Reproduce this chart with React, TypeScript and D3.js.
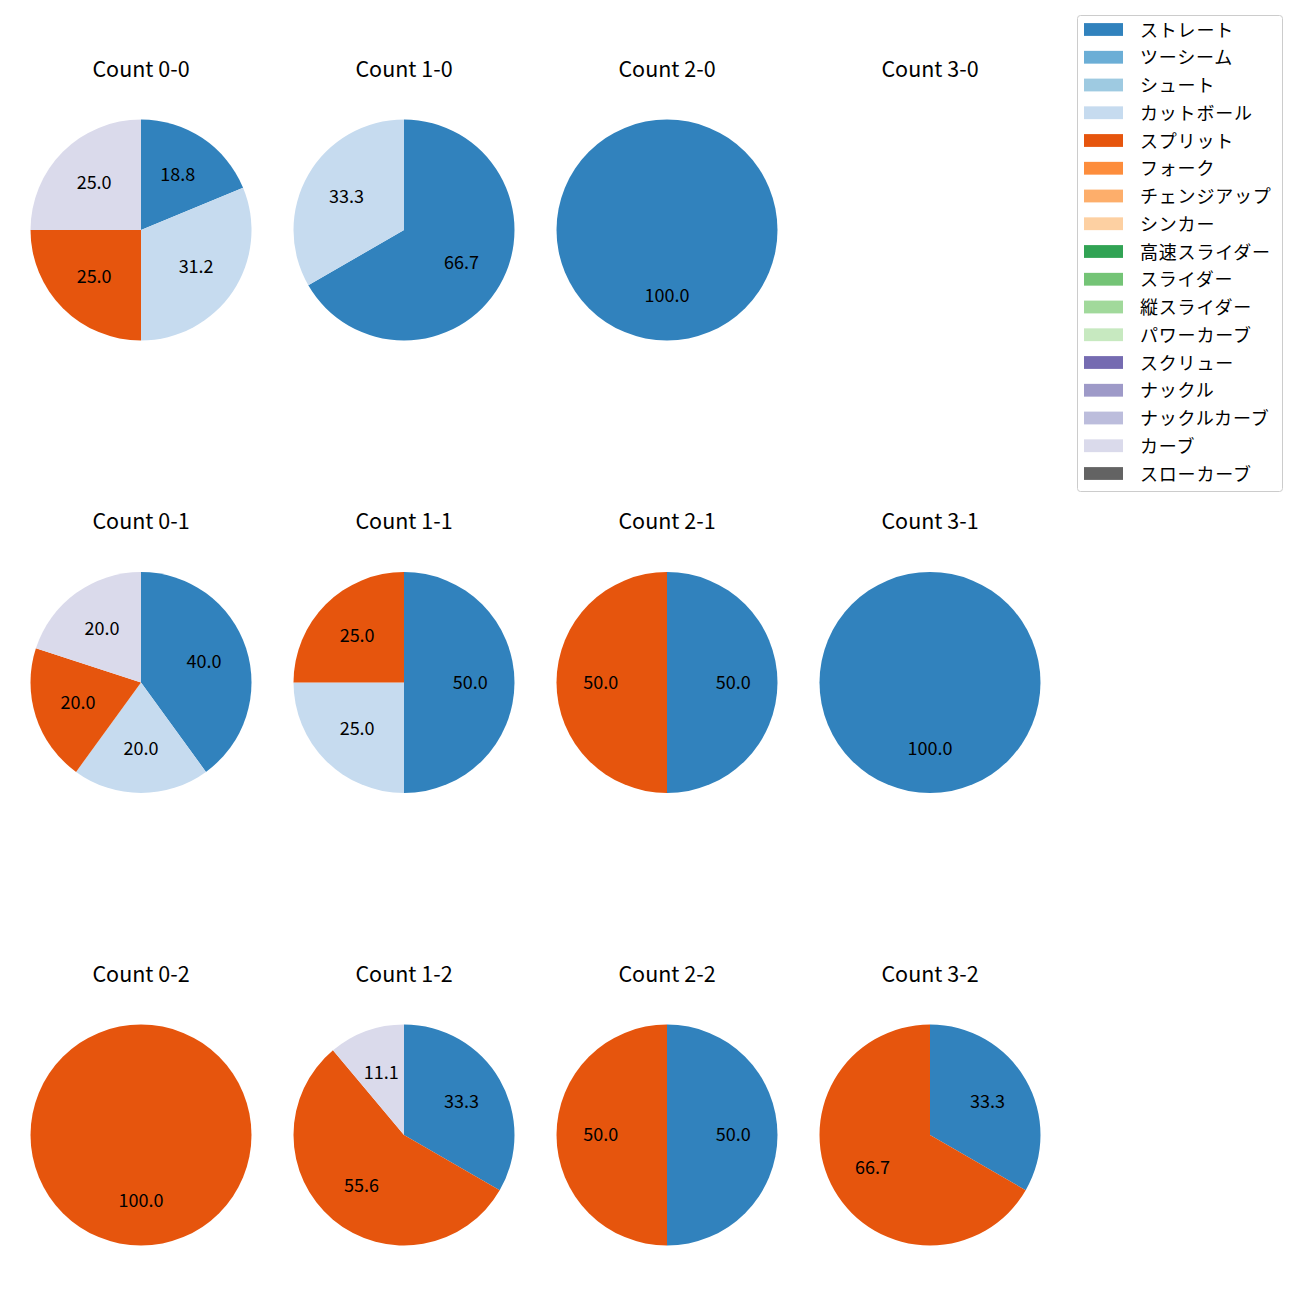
import React from "react";
import * as d3 from "d3";

const pitchTypes = [
  "ストレート", "ツーシーム", "シュート", "カットボール", "スプリット", "フォーク",
  "チェンジアップ", "シンカー", "高速スライダー", "スライダー", "縦スライダー",
  "パワーカーブ", "スクリュー", "ナックル", "ナックルカーブ", "カーブ", "スローカーブ",
];
const colors = [
  "#3182bd", "#6baed6", "#9ecae1", "#c6dbef", "#e6550d", "#fd8d3c", "#fdae6b", "#fdd0a2",
  "#31a354", "#74c476", "#a1d99b", "#c7e9c0", "#756bb1", "#9e9ac8", "#bcbddc", "#dadaeb", "#636363",
];

const titles = [
  ["Count 0-0", "Count 1-0", "Count 2-0", "Count 3-0"],
  ["Count 0-1", "Count 1-1", "Count 2-1", "Count 3-1"],
  ["Count 0-2", "Count 1-2", "Count 2-2", "Count 3-2"],
];
const count00: [string, number][] = [["ストレート", 3], ["カットボール", 5], ["スプリット", 4], ["カーブ", 4]];
const count10: [string, number][] = [["ストレート", 2], ["カットボール", 1]];
const count20: [string, number][] = [["ストレート", 1]];
const count30: [string, number][] = [];
const count01: [string, number][] = [["ストレート", 2], ["カットボール", 1], ["スプリット", 1], ["カーブ", 1]];
const count11: [string, number][] = [["ストレート", 2], ["カットボール", 1], ["スプリット", 1]];
const count21: [string, number][] = [["ストレート", 1], ["スプリット", 1]];
const count31: [string, number][] = [["ストレート", 1]];
const count02: [string, number][] = [["スプリット", 1]];
const count12: [string, number][] = [["ストレート", 3], ["スプリット", 5], ["カーブ", 1]];
const count22: [string, number][] = [["ストレート", 1], ["スプリット", 1]];
const count32: [string, number][] = [["ストレート", 1], ["スプリット", 2]];

const panels = [
  [count00, count10, count20, count30],
  [count01, count11, count21, count31],
  [count02, count12, count22, count32],
];

const FONT = "'Noto Sans CJK JP', 'Noto Sans', sans-serif";

// round half to even, like Python's "%1.1f"
function fmt1(v: number): string {
  const s = v * 10;
  const f = Math.floor(s);
  const diff = s - f;
  let n: number;
  if (Math.abs(diff - 0.5) < 1e-9) n = f % 2 === 0 ? f : f + 1;
  else n = Math.round(s);
  return (n / 10).toFixed(1);
}

export default function App() {
  const W = 1300, H = 1300;
  const colX = d3.scaleLinear().domain([0, 3]).range([141, 930]);
  const rowY = d3.scaleLinear().domain([0, 2]).range([230, 1135]);
  const r = 110.5;
  const color = d3.scaleOrdinal<string, string>().domain(pitchTypes).range(colors);
  const pie = d3.pie<[string, number]>().value((d) => d[1]).sort(null).startAngle(0).endAngle(2 * Math.PI);
  const arc = d3.arc<d3.PieArcDatum<[string, number]>>().innerRadius(0).outerRadius(r);
  const labelArc = d3.arc<d3.PieArcDatum<[string, number]>>().innerRadius(r * 0.6).outerRadius(r * 0.6);

  const legendY = d3.scaleLinear().domain([0, 1]).range([29.5, 57.25]);

  return (
    <svg width={W} height={H} style={{ position: "absolute", left: 0, top: 0 }} fontFamily={FONT}>
      <rect width={W} height={H} fill="#fff" />
      {panels.map((row, ri) =>
        row.map((data, ci) => {
          const cx = colX(ci), cy = rowY(ri);
          const total = d3.sum(data, (d) => d[1]);
          const arcs = pie(data);
          return (
            <g key={`${ri}-${ci}`}>
              <text x={cx} y={cy - 163} textAnchor="middle" dominantBaseline="central" fontSize={21.5} fill="#000">
                {titles[ri][ci]}
              </text>
              <g transform={`translate(${cx},${cy})`}>
                {arcs.map((a, i) => (
                  <path key={i} d={arc(a) || ""} fill={color(a.data[0])} />
                ))}
                {arcs.map((a, i) => {
                  const [lx, ly] = labelArc.centroid(a);
                  return (
                    <text key={`t${i}`} x={lx} y={ly - 2} textAnchor="middle" dominantBaseline="central" fontSize={18} fill="#000">
                      {fmt1((a.data[1] / total) * 100)}
                    </text>
                  );
                })}
              </g>
            </g>
          );
        })
      )}
      <g>
        <rect x={1077.5} y={15.5} width={205} height={476} rx={3} fill="#fff" stroke="#cccccc" strokeWidth={1} />
        {pitchTypes.map((p, i) => (
          <g key={p}>
            <rect x={1084} y={legendY(i) - 6.4} width={39} height={12.8} fill={color(p)} />
            <text x={1140} y={legendY(i) - 1} dominantBaseline="central" fontSize={18} letterSpacing={0.8} fill="#000">
              {p}
            </text>
          </g>
        ))}
      </g>
    </svg>
  );
}
